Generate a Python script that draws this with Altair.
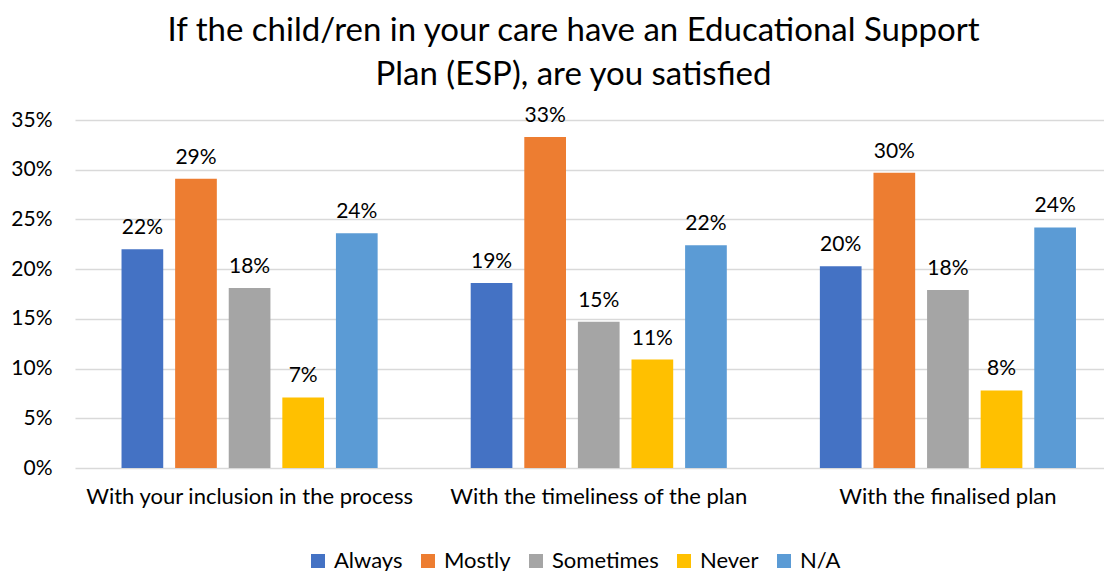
import altair as alt
import pandas as pd

categories = ["With your inclusion in the process", "With the timeliness of the plan", "With the finalised plan"]
series = ["Always", "Mostly", "Sometimes", "Never", "N/A"]
colors = ["#4472C4", "#ED7D31", "#A5A5A5", "#FFC000", "#5B9BD5"]
values = {
    "Always":    [0.220, 0.186, 0.203],
    "Mostly":    [0.291, 0.333, 0.297],
    "Sometimes": [0.181, 0.147, 0.179],
    "Never":     [0.071, 0.109, 0.078],
    "N/A":       [0.236, 0.224, 0.242],
}

rows = []
for s in series:
    for c, v in zip(categories, values[s]):
        rows.append({"category": c, "series": s, "value": v})
df = pd.DataFrame(rows)

FONT = "Lato"

base = alt.Chart(df).encode(
    x=alt.X("category:N", sort=categories, title=None,
            scale=alt.Scale(range=[0, 1047.5], paddingInner=0, paddingOuter=0),
            axis=alt.Axis(labelAngle=0, labelFontSize=22, labelColor="#000000",
                          labelPadding=18, labelLimit=0, ticks=False, domain=False,
                          labelFont=FONT)),
    xOffset=alt.XOffset("series:N", sort=series,
                        scale=alt.Scale(paddingInner=0.222, paddingOuter=0.868)),
)

bars = base.mark_bar().encode(
    y=alt.Y("value:Q", title=None,
            scale=alt.Scale(domain=[0, 0.35]),
            axis=alt.Axis(format=".0%", values=[0, 0.05, 0.10, 0.15, 0.20, 0.25, 0.30, 0.35],
                          labelFontSize=21, labelColor="#000000", labelPadding=23,
                          ticks=False, domain=False, gridColor="#D9D9D9", gridWidth=1.5,
                          labelFont=FONT)),
    color=alt.Color("series:N", sort=series,
                    scale=alt.Scale(domain=series, range=colors),
                    legend=alt.Legend(title=None, orient="none", direction="horizontal",
                                      legendX=232, legendY=430,
                                      symbolType="square", symbolSize=196, symbolStrokeWidth=0,
                                      labelFontSize=22, labelColor="#000000", labelFont=FONT,
                                      labelOffset=5, columnPadding=14, symbolOffset=0)),
)

labels = base.mark_text(dy=-21, fontSize=21, font=FONT, color="#000000").encode(
    y=alt.Y("value:Q"),
    text=alt.Text("value:Q", format=".0%"),
)

chart = alt.layer(bars, labels).properties(
    width=1029,
    height=348,
    autosize=alt.AutoSizeParams(type="none"),
    padding={"left": 67, "top": 112, "right": 0, "bottom": 120},
    title=alt.TitleParams(
        text="If the child/ren in your care have an Educational Support",
        subtitle="Plan (ESP), are you satisfied",
        fontSize=33, font=FONT, fontWeight="normal", color="#000000", lineHeight=33,
        subtitleFontSize=33, subtitleFont=FONT, subtitleFontWeight="normal",
        subtitleColor="#000000", subtitleLineHeight=33, subtitlePadding=11,
        anchor="middle", frame="group", offset=13, dx=-16,
    ),
).configure_view(stroke=None)

chart.save("out.html", embed_options={"renderer": "svg", "actions": False})
